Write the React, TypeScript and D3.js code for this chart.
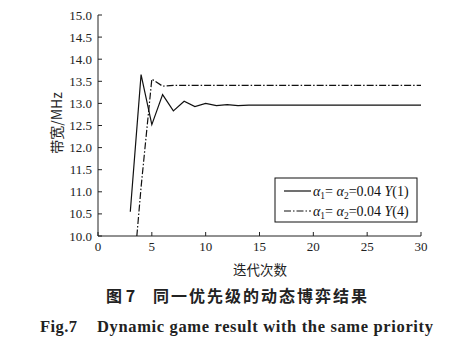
import React from "react";
import * as d3 from "d3";

const xTicks = [0, 5, 10, 15, 20, 25, 30];
const yTicks = [10.0, 10.5, 11.0, 11.5, 12.0, 12.5, 13.0, 13.5, 14.0, 14.5, 15.0];

const iterations = [3, 4, 5, 6, 7, 8, 9, 10, 11, 12, 13, 14, 15, 16, 17, 18, 19, 20, 21, 22, 23, 24, 25, 26, 27, 28, 29, 30];
const seriesY1 = [10.55, 13.65, 12.52, 13.2, 12.83, 13.05, 12.93, 13.0, 12.95, 12.97, 12.95, 12.96, 12.96, 12.96, 12.96, 12.96, 12.96, 12.96, 12.96, 12.96, 12.96, 12.96, 12.96, 12.96, 12.96, 12.96, 12.96, 12.96];
const seriesY4 = [8.3, 11.1, 13.55, 13.39, 13.41, 13.41, 13.41, 13.41, 13.41, 13.41, 13.41, 13.41, 13.41, 13.41, 13.41, 13.41, 13.41, 13.41, 13.41, 13.41, 13.41, 13.41, 13.41, 13.41, 13.41, 13.41, 13.41, 13.41];

const xLabel = "迭代次数";
const yLabel = "带宽/MHz";
const captionCn = "同一优先级的动态博弈结果";
const captionEn = "Dynamic game result with the same priority";

export default function App() {
  const W = 465, H = 351;
  const left = 98, right = 421, top = 15, bottom = 236;
  const x = d3.scaleLinear().domain([0, 30]).range([left, right]);
  const y = d3.scaleLinear().domain([10, 15]).range([bottom, top]);
  const line = d3.line<number>().x((_, i) => x(iterations[i])).y((d) => y(d));
  const serif = "'Liberation Serif', 'Times New Roman', serif";
  const cjk = "'Noto Sans CJK SC', sans-serif";

  const legendText = (label: string, yy: number) => (
    <text x={313} y={yy} fontFamily={serif} fontSize={14} fill="#111">
      <tspan fontStyle="italic">α</tspan>
      <tspan fontSize={9.5} dy={3}>1</tspan>
      <tspan dy={-3}>= </tspan>
      <tspan fontStyle="italic">α</tspan>
      <tspan fontSize={9.5} dy={3}>2</tspan>
      <tspan dy={-3}>=0.04 </tspan>
      <tspan fontStyle="italic">Y</tspan>
      <tspan>{label}</tspan>
    </text>
  );

  return (
    <svg width={W} height={H} style={{ position: "absolute", left: 0, top: 0, background: "#fff" }}>
      <defs>
        <clipPath id="plot">
          <rect x={left} y={top} width={right - left} height={bottom - top} />
        </clipPath>
      </defs>
      {/* axes */}
      <line x1={left} y1={top} x2={left} y2={bottom} stroke="#222" strokeWidth={1} />
      <line x1={left} y1={bottom} x2={right} y2={bottom} stroke="#222" strokeWidth={1} />
      {yTicks.map((t) => (
        <g key={"y" + t}>
          <line x1={left} x2={left + 4} y1={y(t)} y2={y(t)} stroke="#222" />
          <text x={left - 6} y={y(t)} dy="0.35em" textAnchor="end" fontFamily={serif} fontSize={13} fill="#222">
            {t.toFixed(1)}
          </text>
        </g>
      ))}
      {xTicks.map((t) => (
        <g key={"x" + t}>
          <line x1={x(t)} x2={x(t)} y1={bottom} y2={bottom - 4} stroke="#222" />
          <text x={x(t)} y={bottom + 15} textAnchor="middle" fontFamily={serif} fontSize={13} fill="#222">
            {t}
          </text>
        </g>
      ))}
      {/* series */}
      <g clipPath="url(#plot)">
        <path d={line(seriesY1) || ""} fill="none" stroke="#111" strokeWidth={1.2} />
        <path d={line(seriesY4) || ""} fill="none" stroke="#111" strokeWidth={1.2} strokeDasharray="7,2,1.5,2" />
      </g>
      {/* legend */}
      <rect x={275} y={178} width={142} height={44} fill="#fff" stroke="#111" strokeWidth={1} />
      <line x1={284} x2={311} y1={191} y2={191} stroke="#111" strokeWidth={1.2} />
      <line x1={284} x2={311} y1={211} y2={211} stroke="#111" strokeWidth={1.2} strokeDasharray="7,2,1.5,2" />
      {legendText("(1)", 196)}
      {legendText("(4)", 216)}
      {/* axis labels */}
      <text x={260} y={275} textAnchor="middle" fontFamily={cjk} fontSize={13.5} fill="#222">{xLabel}</text>
      <text transform={`translate(62,123) rotate(-90)`} textAnchor="middle" fontFamily={cjk} fontSize={14} fill="#222">{yLabel}</text>
      {/* captions */}
      <text x={106} y={302} fontFamily={cjk} fontSize={16} fontWeight="bold" fill="#222">图 7</text>
      <text x={153} y={302} fontFamily={cjk} fontSize={16} fontWeight="bold" fill="#222" textLength={214} lengthAdjust="spacing">{captionCn}</text>
      <text x={40} y={332} fontFamily={serif} fontSize={16.5} fontWeight="bold" fill="#222" textLength={37} lengthAdjust="spacing">Fig.7</text>
      <text x={97} y={332} fontFamily={serif} fontSize={16.5} fontWeight="bold" fill="#222" textLength={336} lengthAdjust="spacing">{captionEn}</text>
    </svg>
  );
}
